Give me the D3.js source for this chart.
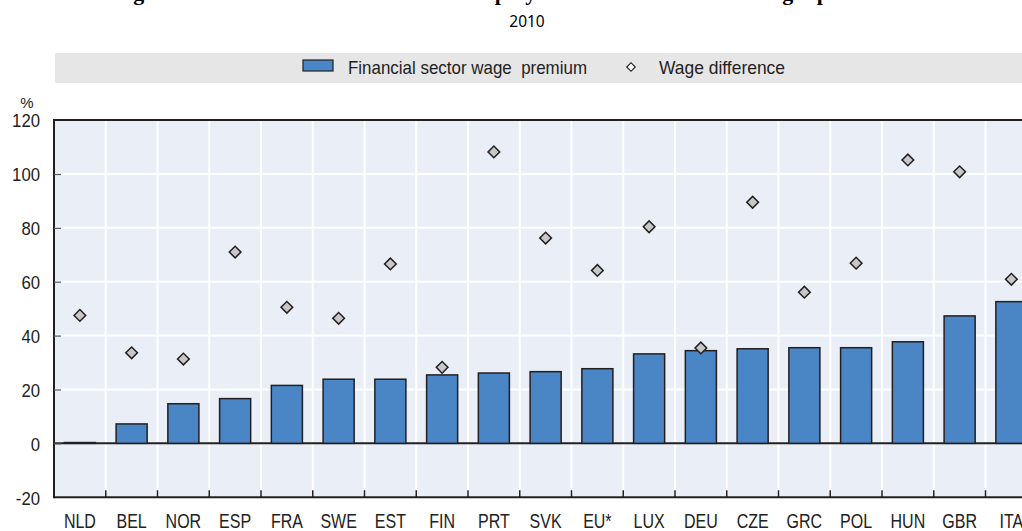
<!DOCTYPE html>
<html>
<head>
<meta charset="utf-8">
<script src="https://cdn.jsdelivr.net/npm/d3@7"></script>
<style>
  html, body { margin: 0; padding: 0; background: #ffffff; overflow: hidden; }
  svg { display: block; }
</style>
</head>
<body>
<svg id="chart" width="1022" height="531"></svg>
<script>
// ---- Data ----
const categories = ["NLD", "BEL", "NOR", "ESP", "FRA", "SWE", "EST", "FIN", "PRT", "SVK", "EU*", "LUX", "DEU", "CZE", "GRC", "POL", "HUN", "GBR", "ITA"];
const premiumValues = [0.3, 7.2, 14.7, 16.6, 21.5, 23.8, 23.8, 25.4, 26.1, 26.6, 27.7, 33.2, 34.4, 35.1, 35.5, 35.5, 37.7, 47.3, 52.6];
const wageDiffValues = [47.5, 33.6, 31.3, 71.0, 50.5, 46.4, 66.6, 28.2, 108.2, 76.2, 64.2, 80.4, 35.4, 89.5, 56.1, 66.9, 105.2, 100.8, 60.9];
const yTicks = [-20, 0, 20, 40, 60, 80, 100, 120];
const seriesNames = ["Financial sector wage  premium", "Wage difference"];
const titleText = "Figure 2. Finance sector workers earn more than employees elsewhere: the financial wage premium";
const subtitleText = "2010";
const unitLabel = "%";

// ---- Layout ----
const svg = d3.select("#chart");
const plotLeft = 54, plotTop = 120.1, plotBottom = 497.2;
const step = 51.75;
const plotRight = plotLeft + step * categories.length;
const labelFont = "'Liberation Sans', Arial, sans-serif";
const dark = "#231f20";

// condense a text selection horizontally (narrow-font look)
function condense(sel, factor) {
  sel.each(function () {
    const w = this.getComputedTextLength();
    d3.select(this).attr("textLength", w * factor).attr("lengthAdjust", "spacingAndGlyphs");
  });
}

const x = d3.scaleBand().domain(categories).range([plotLeft, plotRight]).padding(0);
const y = d3.scaleLinear().domain([-20, 120]).range([plotBottom, plotTop]);

// Title (mostly cropped above the frame): per-character placement so the visible
// descenders fall where the reference shows them
{
  const titleFont = "bold 22px 'Liberation Serif', 'Times New Roman', serif";
  const ctx = document.createElement("canvas").getContext("2d");
  ctx.font = titleFont;
  const chars = Array.from(titleText);
  const starts = [], widths = [];
  for (let i = 0; i < chars.length; i++) {
    starts.push(ctx.measureText(titleText.slice(0, i)).width);
    widths.push(ctx.measureText(chars[i]).width);
  }
  const centers = starts.map((s, i) => s + widths[i] / 2);
  const anchors = [[2, 138], [50, 500], [53, 530], [85, 787], [88, 822]];
  const map = d3.scaleLinear()
    .domain(anchors.map(a => centers[a[0]]))
    .range(anchors.map(a => a[1]));
  const xs = chars.map((c, i) => map(centers[i]) - widths[i] / 2 * 0.85);
  svg.append("text")
    .attr("x", xs.map(v => v.toFixed(2)).join(" "))
    .attr("y", -0.5)
    .attr("font-family", "'Liberation Serif', 'Times New Roman', serif")
    .attr("font-weight", "bold")
    .attr("font-size", 22)
    .attr("fill", "#000")
    .text(titleText);
}

svg.append("text")
  .attr("x", 527).attr("y", 27)
  .attr("text-anchor", "middle")
  .attr("font-family", "'Noto Sans', 'Open Sans', sans-serif")
  .attr("font-size", 15.5)
  .attr("fill", "#000")
  .text(subtitleText);

// Legend band
svg.append("rect")
  .attr("x", 55).attr("y", 53).attr("width", 1022 - 55 + 50).attr("height", 30)
  .attr("fill", "#e6e6e6");

const legend = svg.append("g");
legend.append("rect")
  .attr("x", 303).attr("y", 60).attr("width", 30).attr("height", 11)
  .attr("fill", "#4a86c6").attr("stroke", dark).attr("stroke-width", 1.2);
legend.append("text")
  .attr("x", 348).attr("y", 74)
  .attr("font-family", labelFont).attr("font-size", 19).attr("fill", "#222")
  .attr("xml:space", "preserve")
  .style("white-space", "pre")
  .text(seriesNames[0])
  .attr("textLength", 239).attr("lengthAdjust", "spacingAndGlyphs");
legend.append("path")
  .attr("d", d3.symbol().type(d3.symbolSquare).size(36)())
  .attr("transform", "translate(631,67) rotate(45)")
  .attr("fill", "#ffffff").attr("stroke", dark).attr("stroke-width", 1.2);
legend.append("text")
  .attr("x", 659).attr("y", 74)
  .attr("font-family", labelFont).attr("font-size", 19).attr("fill", "#222")
  .text(seriesNames[1])
  .attr("textLength", 126).attr("lengthAdjust", "spacingAndGlyphs");

// Plot background
svg.append("rect")
  .attr("x", plotLeft).attr("y", plotTop)
  .attr("width", plotRight - plotLeft).attr("height", plotBottom - plotTop)
  .attr("fill", "#e9eef7");

// Horizontal gridlines
svg.append("g").selectAll("line").data(yTicks).join("line")
  .attr("x1", plotLeft).attr("x2", plotRight)
  .attr("y1", d => y(d)).attr("y2", d => y(d))
  .attr("stroke", "#ffffff").attr("stroke-width", 2);

// Vertical gridlines at category boundaries
const boundaries = categories.slice(1).map(c => x(c));
svg.append("g").selectAll("line").data(boundaries).join("line")
  .attr("x1", d => d).attr("x2", d => d)
  .attr("y1", plotTop).attr("y2", plotBottom)
  .attr("stroke", "#ffffff").attr("stroke-width", 2);

// Zero line
svg.append("line")
  .attr("x1", plotLeft).attr("x2", plotRight)
  .attr("y1", y(0)).attr("y2", y(0))
  .attr("stroke", dark).attr("stroke-width", 2);

// Bars
const barW = x.bandwidth() * 0.6;
svg.append("g").selectAll("rect").data(categories).join("rect")
  .attr("x", d => x(d) + (x.bandwidth() - barW) / 2)
  .attr("width", barW)
  .attr("y", (d, i) => y(Math.max(0, premiumValues[i])))
  .attr("height", (d, i) => Math.abs(y(premiumValues[i]) - y(0)))
  .attr("fill", "#4a86c6")
  .attr("stroke", dark).attr("stroke-width", 1.5);

// Diamonds
const diamond = d3.symbol().type(d3.symbolSquare).size(68)();
svg.append("g").selectAll("path").data(categories).join("path")
  .attr("d", diamond)
  .attr("transform", (d, i) => `translate(${x(d) + x.bandwidth() / 2},${y(wageDiffValues[i])}) rotate(45)`)
  .attr("fill", "#c8c8c8")
  .attr("stroke", dark).attr("stroke-width", 1.5);

// Axes frame
svg.append("line").attr("x1", plotLeft).attr("x2", plotRight).attr("y1", plotTop).attr("y2", plotTop)
  .attr("stroke", dark).attr("stroke-width", 2);
svg.append("line").attr("x1", plotLeft).attr("x2", plotRight).attr("y1", plotBottom).attr("y2", plotBottom)
  .attr("stroke", dark).attr("stroke-width", 2);
svg.append("line").attr("x1", plotLeft).attr("x2", plotLeft).attr("y1", plotTop - 1).attr("y2", plotBottom + 1)
  .attr("stroke", dark).attr("stroke-width", 2);

// Y ticks (inside) and labels
const yAxis = d3.axisLeft(y).tickValues(yTicks).tickSize(-7).tickPadding(14).tickFormat(d => String(d));
const yg = svg.append("g").attr("transform", `translate(${plotLeft},0)`).call(yAxis);
yg.select(".domain").remove();
yg.selectAll(".tick line").attr("stroke", "#555").attr("stroke-width", 1.2);
yg.selectAll(".tick text")
  .attr("font-family", labelFont).attr("font-size", 19).attr("fill", "#222")
  .attr("x", -14).attr("dy", "0.36em")
  .call(condense, 0.88);
yg.selectAll(".tick").filter(d => d === 120 || d === -20).select("line").remove();

svg.append("text")
  .attr("x", 27).attr("y", 108)
  .attr("text-anchor", "middle")
  .attr("font-family", labelFont).attr("font-size", 15).attr("fill", "#222")
  .text(unitLabel);

// X ticks (inside, at boundaries)
svg.append("g").selectAll("line").data(boundaries).join("line")
  .attr("x1", d => d).attr("x2", d => d)
  .attr("y1", plotBottom).attr("y2", plotBottom - 7)
  .attr("stroke", dark).attr("stroke-width", 1.5);

// X labels
const xAxis = d3.axisBottom(x).tickSize(0).tickPadding(0);
const xg = svg.append("g").attr("transform", `translate(0,${plotBottom})`).call(xAxis);
xg.select(".domain").remove();
xg.selectAll(".tick text")
  .attr("font-family", labelFont).attr("font-size", 19.5).attr("fill", "#222")
  .attr("y", 31).attr("dy", 0)
  .call(condense, 0.82);
</script>
</body>
</html>
